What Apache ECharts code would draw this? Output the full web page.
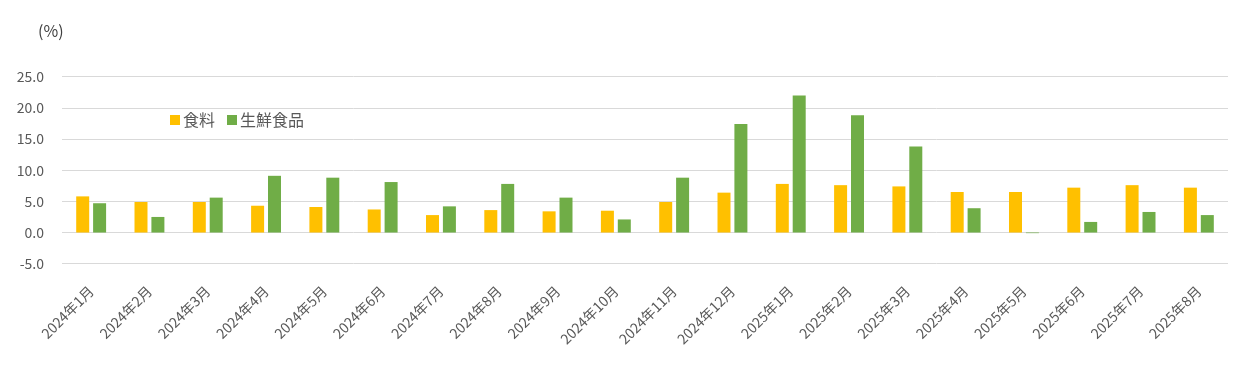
<!DOCTYPE html>
<html>
<head>
<meta charset="utf-8">
<script src="https://cdn.jsdelivr.net/npm/echarts@6/dist/echarts.min.js"></script>
<style>html,body{margin:0;padding:0;background:#fff;}#c{width:1255px;height:374px;}</style>
</head>
<body>
<div id="c"></div>
<script>
const categories = ['2024年1月','2024年2月','2024年3月','2024年4月','2024年5月','2024年6月','2024年7月','2024年8月','2024年9月','2024年10月','2024年11月','2024年12月','2025年1月','2025年2月','2025年3月','2025年4月','2025年5月','2025年6月','2025年7月','2025年8月'];
const food =  [5.8, 4.9, 4.9, 4.3, 4.1, 3.7, 2.8, 3.6, 3.4, 3.5, 4.9, 6.4, 7.8, 7.6, 7.4, 6.5, 6.5, 7.2, 7.6, 7.2];
const fresh = [4.7, 2.5, 5.6, 9.1, 8.8, 8.1, 4.2, 7.8, 5.6, 2.1, 8.8, 17.4, 22.0, 18.8, 13.8, 3.9, -0.1, 1.7, 3.3, 2.8];
const yTicks = {min: -5, max: 25, interval: 5};
const seriesNames = ['食料', '生鮮食品'];

const font = '"Noto Sans CJK JP", "Noto Sans", sans-serif';
const chart = echarts.init(document.getElementById('c'));
chart.setOption({
  animation: false,
  backgroundColor: '#fff',
  textStyle: {fontFamily: font},
  title: {
    text: '(%)', left: 33, top: 18,
    textStyle: {fontSize: 16, fontWeight: 'normal', color: '#404040', fontFamily: font}
  },
  legend: {
    data: seriesNames,
    left: 165, top: 107,
    itemWidth: 10, itemHeight: 10, itemGap: 12,
    icon: 'rect',
    textStyle: {fontSize: 16, color: '#595959', fontFamily: font, padding: [0,0,0,-2]}
  },
  grid: {left: 62, right: 27, top: 76.7, bottom: 110.3, containLabel: false},
  xAxis: {
    type: 'category',
    data: categories,
    axisLine: {show: false},
    axisTick: {show: false},
    axisLabel: {rotate: 45, interval: 0, fontSize: 14, color: '#595959', margin: 25, fontFamily: font}
  },
  yAxis: {
    type: 'value',
    min: yTicks.min, max: yTicks.max, interval: yTicks.interval,
    axisLine: {show: false},
    axisTick: {show: false},
    axisLabel: {fontSize: 14, color: '#595959', margin: 18, formatter: v => v.toFixed(1), fontFamily: font},
    splitLine: {lineStyle: {color: '#d9d9d9', width: 1}}
  },
  series: [
    {name: seriesNames[0], type: 'bar', data: food, barWidth: 13, barGap: '30%', itemStyle: {color: '#FFC000'}},
    {name: seriesNames[1], type: 'bar', data: fresh, barWidth: 13, itemStyle: {color: '#70AD47'}}
  ]
});
</script>
</body>
</html>
